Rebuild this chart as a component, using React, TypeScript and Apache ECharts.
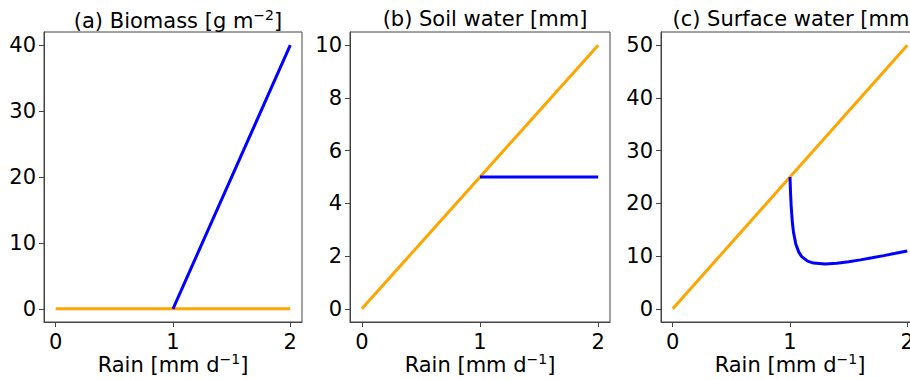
import React, { useEffect, useRef } from "react";
import * as echarts from "echarts";

// Rain levels (mm d^-1) for the two states
const bareRain = [0, 2];
const vegRainLinear = [1, 2];
const vegRainSurface = [
  1.0, 1.005, 1.01, 1.02, 1.03, 1.05, 1.075, 1.1, 1.15, 1.2, 1.3, 1.4, 1.5,
  1.6, 1.7, 1.8, 1.9, 2.0,
];

// Biomass [g m^-2]
const biomassBare = [0, 0];
const biomassVeg = [0, 40];

// Soil water [mm]
const soilBare = [0, 10];
const soilVeg = [5, 5];

// Surface water [mm]
const surfaceBare = [0, 50];
const surfaceVeg = [
  25.0, 21.8, 19.5, 16.4, 14.5, 12.25, 10.75, 9.9, 9.04, 8.67, 8.5, 8.65, 8.93,
  9.28, 9.67, 10.09, 10.53, 10.98,
];

// Tick labels
const xTicks = [0, 1, 2];
const biomassTicks = [0, 10, 20, 30, 40];
const soilTicks = [0, 2, 4, 6, 8, 10];
const surfaceTicks = [0, 10, 20, 30, 40, 50];

const titles = [
  "(a) Biomass [g m{sup|−2}]",
  "(b) Soil water [mm]",
  "(c) Surface water [mm]",
];

const BLUE = "#0000ff";
const ORANGE = "#ffa500";
const FONT = "DejaVu Sans";
const FS = 21;
const AXIS = "#444";

const pairs = (xs: number[], ys: number[]) => xs.map((x, i) => [x, ys[i]]);

const panels = [
  { left: 44, width: 258, yMin: -2, yMax: 42, yTicks: biomassTicks },
  { left: 350, width: 260, yMin: -0.5, yMax: 10.5, yTicks: soilTicks },
  { left: 661, width: 258, yMin: -2.5, yMax: 52.5, yTicks: surfaceTicks },
];

const supStyle = {
  fontSize: 14,
  fontFamily: FONT,
  color: "#000",
  padding: [0, 0, 12, 0],
};

export default function App() {
  const ref = useRef<HTMLDivElement>(null);

  useEffect(() => {
    if (!ref.current) return;
    const chart = echarts.init(ref.current, null, { renderer: "svg" });

    const grid = panels.map((p) => ({
      left: p.left,
      top: 32,
      width: p.width,
      height: 290,
      show: true,
      borderColor: AXIS,
      borderWidth: 1,
      backgroundColor: "transparent",
      containLabel: false,
      outerBoundsMode: "none",
    }));

    const xAxis = panels.map((p, i) => ({
      type: "value",
      gridIndex: i,
      min: -0.1,
      max: 2.1,
      position: "bottom",
      splitLine: { show: false },
      axisLine: { show: true, onZero: false, lineStyle: { color: AXIS } },
      axisTick: {
        show: true,
        inside: false,
        length: 5,
        customValues: xTicks,
        lineStyle: { color: AXIS },
      },
      axisLabel: {
        customValues: xTicks,
        fontSize: FS,
        fontFamily: FONT,
        color: "#000",
        margin: 9,
      },
      name: "Rain [mm d{sup|−1}]",
      nameLocation: "middle",
      nameGap: 30,
      nameMoveOverlap: false,
      nameTextStyle: {
        fontSize: FS,
        fontFamily: FONT,
        color: "#000",
        rich: { sup: supStyle },
      },
    }));

    const yAxis = panels.map((p, i) => ({
      type: "value",
      gridIndex: i,
      min: p.yMin,
      max: p.yMax,
      position: "left",
      splitLine: { show: false },
      axisLine: { show: true, onZero: false, lineStyle: { color: AXIS } },
      axisTick: {
        show: true,
        inside: false,
        length: 5,
        customValues: p.yTicks,
        lineStyle: { color: AXIS },
      },
      axisLabel: {
        customValues: p.yTicks,
        fontSize: FS,
        fontFamily: FONT,
        color: "#000",
        margin: 8,
      },
    }));

    const title = panels.map((p, i) => ({
      text: titles[i],
      left: p.left + p.width / 2,
      top: 3,
      textAlign: "center",
      textStyle: {
        fontSize: FS,
        fontFamily: FONT,
        fontWeight: "normal",
        color: "#000",
        rich: { sup: supStyle },
      },
    }));

    const line = (i: number, data: number[][], color: string) => ({
      type: "line",
      xAxisIndex: i,
      yAxisIndex: i,
      data,
      showSymbol: false,
      symbol: "none",
      smooth: false,
      lineStyle: { color, width: 3 },
      z: color === BLUE ? 3 : 2,
    });

    chart.setOption({
      animation: false,
      backgroundColor: "#fff",
      textStyle: { fontFamily: FONT },
      title,
      grid,
      xAxis,
      yAxis,
      series: [
        line(0, pairs(bareRain, biomassBare), ORANGE),
        line(0, pairs(vegRainLinear, biomassVeg), BLUE),
        line(1, pairs(bareRain, soilBare), ORANGE),
        line(1, pairs(vegRainLinear, soilVeg), BLUE),
        line(2, pairs(bareRain, surfaceBare), ORANGE),
        line(2, pairs(vegRainSurface, surfaceVeg), BLUE),
      ],
    });

    return () => chart.dispose();
  }, []);

  // The canvas runs a little past the window so the last panel's right edge is clipped.
  return (
    <div
      ref={ref}
      style={{ position: "fixed", left: 0, top: 0, width: 940, height: 380 }}
    />
  );
}
